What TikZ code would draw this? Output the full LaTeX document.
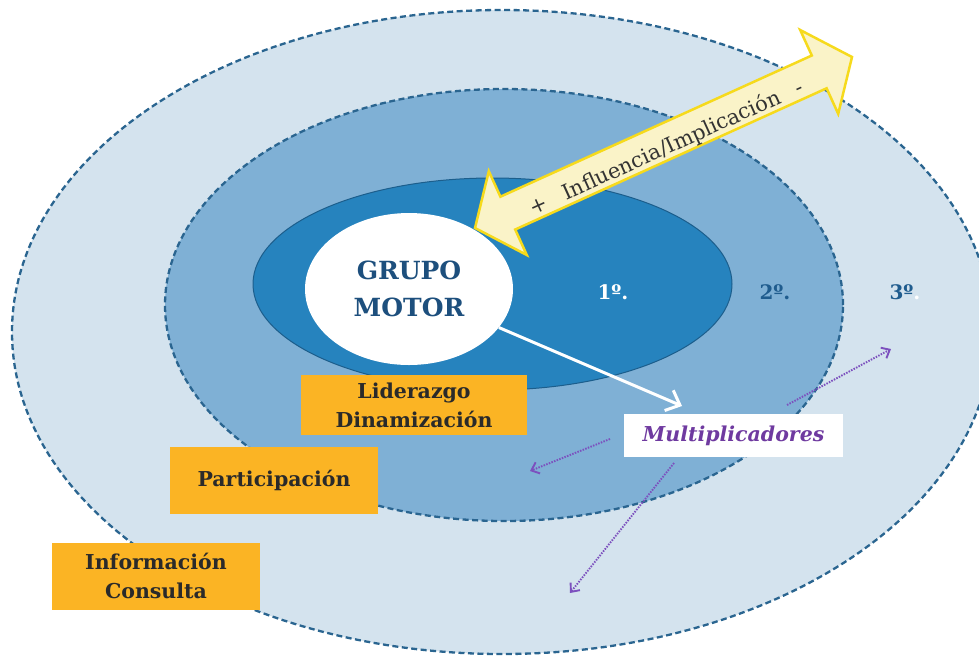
\documentclass[tikz,border=0pt]{standalone}
\usepackage{fontspec}
\setmainfont{DejaVu Serif}
\usetikzlibrary{shapes.geometric,arrows.meta}
\definecolor{c3}{HTML}{D4E3EE}
\definecolor{c2}{HTML}{7FB0D5}
\definecolor{c1}{HTML}{2683BE}
\definecolor{c1line}{HTML}{1C5E8C}
\definecolor{dashc}{HTML}{2A6590}
\definecolor{orangec}{HTML}{FBB424}
\definecolor{labeltext}{HTML}{2A2A2A}
\definecolor{yellowfill}{HTML}{FAF3C8}
\definecolor{yellowline}{HTML}{F6DA1C}
\definecolor{arrowtext}{HTML}{333333}
\definecolor{navy}{HTML}{1D4F7D}
\definecolor{ordblue}{HTML}{1F5C8E}
\definecolor{multc}{HTML}{6F3AA0}
\definecolor{purplec}{HTML}{7C50BE}
\tikzset{
  ring/.style={ellipse, inner sep=0pt, draw=dashc, line width=2.3pt, dash pattern=on 6pt off 3.5pt},
  orangebox/.style={fill=orangec, inner sep=0pt, align=center, text=labeltext,
    font=\fontsize{20.5}{29}\selectfont\bfseries},
  ordlabel/.style={font=\fontsize{20}{29}\selectfont\bfseries, anchor=base},
  purplearrow/.style={draw=purplec, line width=1.9pt, dash pattern=on 1.5pt off 1.3pt,
    -{Straight Barb[length=7pt,width=12pt,line width=1.9pt]}},
}
\begin{document}
\begin{tikzpicture}[x=1pt,y=-1pt]
\useasboundingbox (0,0) rectangle (979,657);
% rings
\node[ring, fill=c3, minimum width=980pt, minimum height=644pt] (ring3) at (502,332) {};
\node[ring, fill=c2, minimum width=678pt, minimum height=432pt] (ring2) at (504,305) {};
\node[ellipse, inner sep=0pt, fill=c1, draw=c1line, line width=1pt,
      minimum width=479pt, minimum height=212pt] (ring1) at (492.5,284) {};
% ordinal labels
\node[ordlabel, text=white] (o1) at (613,299) {1º.};
\node[ordlabel, text=ordblue] (o2) at (775,299) {2º.};
\node[ordlabel, text=ordblue] (o3) at (905,299) {3º\textcolor{white}{.}};
% grupo motor
\node[ellipse, inner sep=0pt, fill=white, minimum width=208pt, minimum height=152pt,
      align=center, text=navy, font=\fontsize{25}{37}\selectfont\bfseries] (gm) at (409,289) {GRUPO\\MOTOR};
% yellow double arrow
\draw[fill=yellowfill, draw=yellowline, line width=2.5pt, line join=miter]
  (475,228) -- (488.8,171.2) -- (500.4,196.7) -- (811.8,55.5) -- (800.2,30.0)
  -- (852,57) -- (838.2,113.8) -- (826.6,88.3) -- (515.2,229.5) -- (526.8,255.0) -- cycle;
\node[rotate=24.4, font=\fontsize{21}{29}\selectfont, text=arrowtext, inner sep=0pt] (infl) at (667,148)
  {+\hspace{18pt}Influencia/Implicación\hspace{18pt}-};
% orange boxes
\node[orangebox, minimum width=226pt, minimum height=60pt] (lid) at (414,405) {Liderazgo\\Dinamización};
\node[orangebox, minimum width=208pt, minimum height=67pt] (par) at (274,480.5) {Participación};
\node[orangebox, minimum width=208pt, minimum height=67pt] (inf) at (156,576) {Información\\Consulta};
% multiplicadores
\node[fill=white, inner sep=0pt, minimum width=219pt, minimum height=43pt, text=multc,
      font=\fontsize{20.5}{29}\selectfont\bfseries\itshape] (mult) at (733.5,435.5) {Multiplicadores\hspace{20pt}};
% white arrow
\coordinate (wa) at (682,406);
\draw[white, line width=3pt, -{Straight Barb[length=12pt,width=22pt]}] (gm) -- (wa);
% purple dotted arrows
\coordinate (p1s) at (787,405); \coordinate (p1e) at (891,349);
\coordinate (p2s) at (610,439); \coordinate (p2e) at (530,471);
\coordinate (p3s) at (674,463); \coordinate (p3e) at (570,593);
\draw[purplearrow] (p1s) -- (p1e);
\draw[purplearrow] (p2s) -- (p2e);
\draw[purplearrow] (p3s) -- (p3e);
\end{tikzpicture}
\end{document}
